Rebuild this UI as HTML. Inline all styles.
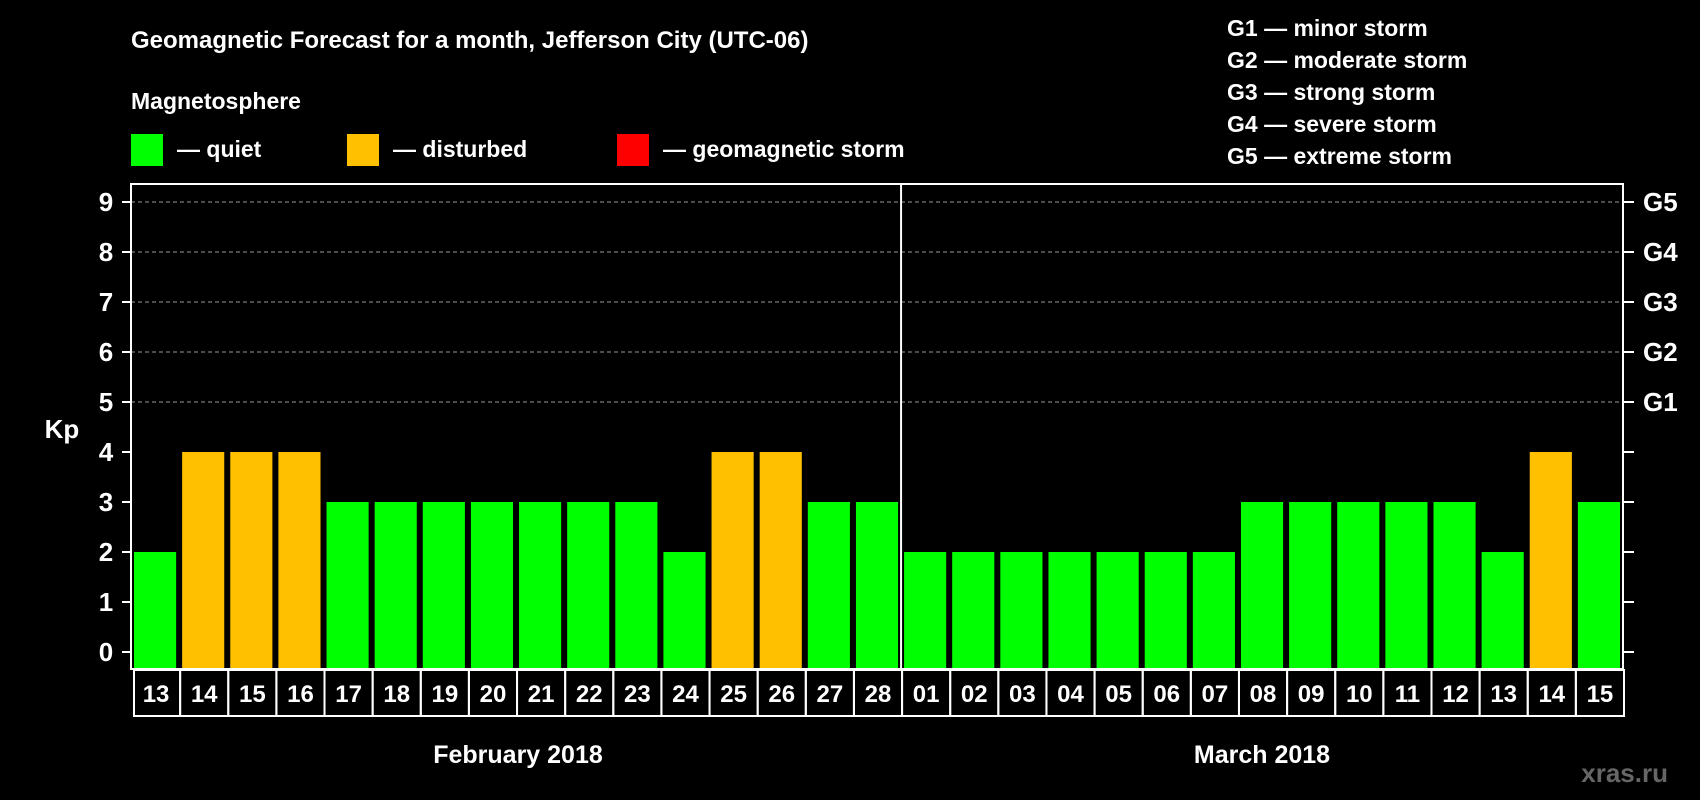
<!DOCTYPE html>
<html><head><meta charset="utf-8"><style>
body{margin:0;background:#000;}
svg{display:block;font-family:"Liberation Sans",Arial,sans-serif;font-weight:bold;}
</style></head><body>
<svg id="c" width="1700" height="800" viewBox="0 0 1700 800">
<rect width="1700" height="800" fill="#000"/>
<text x="131" y="48" fill="#fff" font-size="24">Geomagnetic Forecast for a month, Jefferson City (UTC-06)</text>
<text x="131" y="109" fill="#fff" font-size="23">Magnetosphere</text>
<rect x="131" y="134" width="32" height="32" fill="#00ff00"/>
<text x="177" y="157" fill="#fff" font-size="23">— quiet</text>
<rect x="347" y="134" width="32" height="32" fill="#ffc000"/>
<text x="393" y="157" fill="#fff" font-size="23">— disturbed</text>
<rect x="617" y="134" width="32" height="32" fill="#ff0000"/>
<text x="663" y="157" fill="#fff" font-size="23">— geomagnetic storm</text>
<g fill="#fff" font-size="23">
<text x="1227" y="36">G1 — minor storm</text>
<text x="1227" y="68">G2 — moderate storm</text>
<text x="1227" y="100">G3 — strong storm</text>
<text x="1227" y="132">G4 — severe storm</text>
<text x="1227" y="164">G5 — extreme storm</text>
</g>
<text x="62" y="438" fill="#fff" font-size="26" text-anchor="middle">Kp</text>
<text x="518" y="763" fill="#fff" font-size="25" text-anchor="middle">February 2018</text>
<text x="1262" y="763" fill="#fff" font-size="25" text-anchor="middle">March 2018</text>
<text x="1668" y="782" fill="#666" font-size="26" text-anchor="end">xras.ru</text>
<g id="marks"></g>
</svg>
<script>
const days=["13","14","15","16","17","18","19","20","21","22","23","24","25","26","27","28","01","02","03","04","05","06","07","08","09","10","11","12","13","14","15"];
const kp=[2,4,4,4,3,3,3,3,3,3,3,2,4,4,3,3,2,2,2,2,2,2,2,3,3,3,3,3,2,4,3];
const yTicks=[0,1,2,3,4,5,6,7,8,9];
const gLabels=["G1","G2","G3","G4","G5"];
const L=131,R=1623,T=184,B=669;
const y=v=>652-v*50;
const slot=(R-L)/days.length;
const x=i=>L+i*slot;
const ns="http://www.w3.org/2000/svg";
const g=document.getElementById('marks');
function mk(t,a){const e=document.createElementNS(ns,t);for(const k in a)e.setAttribute(k,a[k]);g.appendChild(e);return e;}
yTicks.forEach(v=>{
 if(v>=5){const l=mk('line',{x1:L,x2:R,y1:y(v),y2:y(v),stroke:'#999','stroke-dasharray':'4,3','stroke-width':1});
 
 }
 const t1=mk('line',{x1:L-9,x2:L,y1:y(v),y2:y(v),stroke:'#fff','stroke-width':2});
 
 
 const t2=mk('line',{x1:R,x2:R+11,y1:y(v),y2:y(v),stroke:'#fff','stroke-width':2});
 
 
 const tx=mk('text',{x:106,y:y(v)+9,fill:'#fff','font-size':26,'text-anchor':'middle'});tx.textContent=v;
 
 
});
gLabels.forEach((s,i)=>{
 const tx=mk('text',{x:1643,y:y(i+5)+9,fill:'#fff','font-size':26});tx.textContent=s;
 
 
});
kp.forEach((v,i)=>{
 const c=v>=5?'#ff0000':(v>=4?'#ffc000':'#00ff00');
 const r=mk('rect',{x:x(i)+3,y:y(v),width:slot-6,height:y(0)+17-y(v)-1,fill:c});
 
 
 const b=mk('rect',{x:x(i)+1+(i==0?2:0),y:670,width:slot-(i==0?2:0),height:46,fill:'none',stroke:'#fff','stroke-width':2});
 
 
 const t=mk('text',{x:x(i)+slot/2+1,y:702,fill:'#fff','font-size':24,'text-anchor':'middle'});t.textContent=days[i];
 
 
});
const fr=mk('rect',{x:L,y:T,width:R-L,height:B-T,fill:'none',stroke:'#fff','stroke-width':2});


const sep=days.indexOf("01");
const d=mk('line',{x1:x(sep),x2:x(sep),y1:T,y2:B,stroke:'#fff','stroke-width':2});


</script>
</body></html>
